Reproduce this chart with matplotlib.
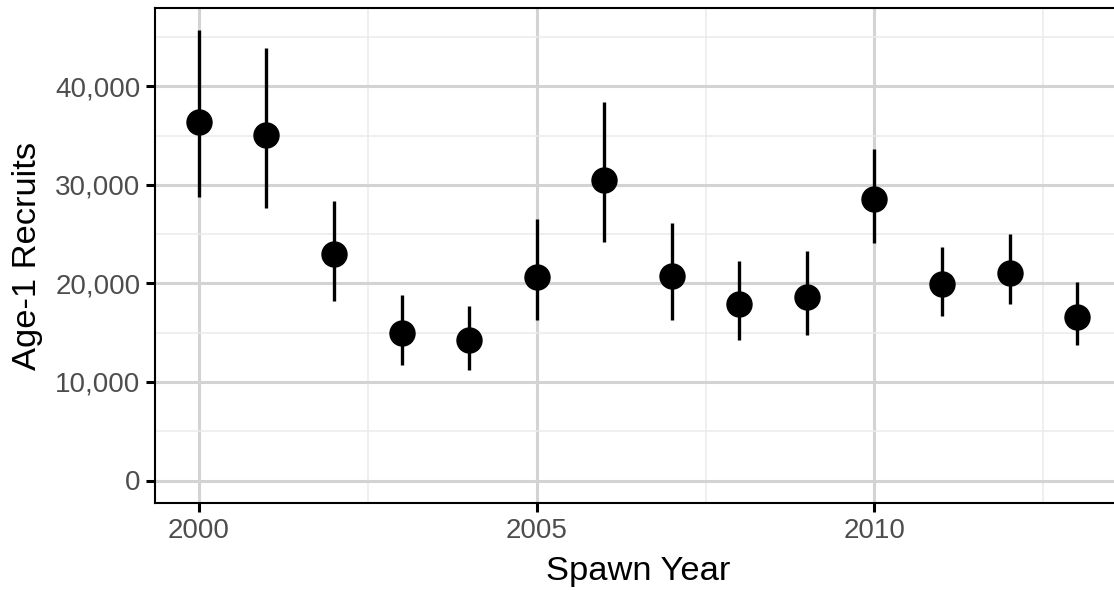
import matplotlib
matplotlib.use("Agg")
import matplotlib.pyplot as plt
from matplotlib.ticker import FuncFormatter, MultipleLocator

plt.rcParams['font.family'] = ['Liberation Sans', 'DejaVu Sans']

# Estimated age-1 recruits by spawn year with 95% intervals
years = [2000, 2001, 2002, 2003, 2004, 2005, 2006,
         2007, 2008, 2009, 2010, 2011, 2012, 2013]
recruits = [36380, 35100, 23010, 14980, 14230, 20700, 30490,
            20780, 17910, 18580, 28540, 19970, 21110, 16600]
lower = [28750, 27670, 18210, 11700, 11190, 16320, 24190,
         16250, 14300, 14810, 24150, 16660, 17940, 13790]
upper = [45680, 43890, 28410, 18850, 17740, 26510, 38380,
         26170, 22290, 23340, 33700, 23740, 25000, 20100]

W, H = 1114, 590
fig = plt.figure(figsize=(W / 100, H / 100), dpi=100)
# panel runs a few pixels past the right edge of the canvas
ax = fig.add_axes([155 / W, (H - 503) / H, (1121 - 155) / W, (503 - 8) / H])

# ggplot-like 5% expansion around the data range
xlo, xhi = min(years), max(years)
xpad = 0.05 * (xhi - xlo)
ylo, yhi = 0, max(upper)
ypad = 0.05 * (yhi - ylo)
ax.set_xlim(xlo - xpad, xhi + xpad)
ax.set_ylim(ylo - ypad, yhi + ypad)

ax.vlines(years, lower, upper, color='black', linewidth=2.4, zorder=3)
ax.plot(years, recruits, 'o', color='black', markersize=18, zorder=4)

ax.xaxis.set_major_locator(MultipleLocator(5))
ax.xaxis.set_minor_locator(MultipleLocator(2.5))
ax.yaxis.set_major_locator(MultipleLocator(10000))
ax.yaxis.set_minor_locator(MultipleLocator(5000))
ax.yaxis.set_major_formatter(FuncFormatter(lambda v, p: f"{int(v):,}"))

ax.grid(which='major', color='#D3D3D3', linewidth=2.2, zorder=0)
ax.grid(which='minor', color='#EBEBEB', linewidth=1.1, zorder=0)
ax.set_axisbelow(True)

for s in ax.spines.values():
    s.set_color('black')
    s.set_linewidth(1.5)

ax.tick_params(which='major', length=6.5, width=2.2, color='black',
               labelsize=20, labelcolor='#4D4D4D', pad=4)
ax.tick_params(which='minor', length=0)

ax.set_xlabel('Spawn Year', fontsize=24.8, color='black', labelpad=9)
ax.set_ylabel('Age-1 Recruits', fontsize=24.8, color='black', labelpad=9)

fig.savefig('out.png', dpi=100)
